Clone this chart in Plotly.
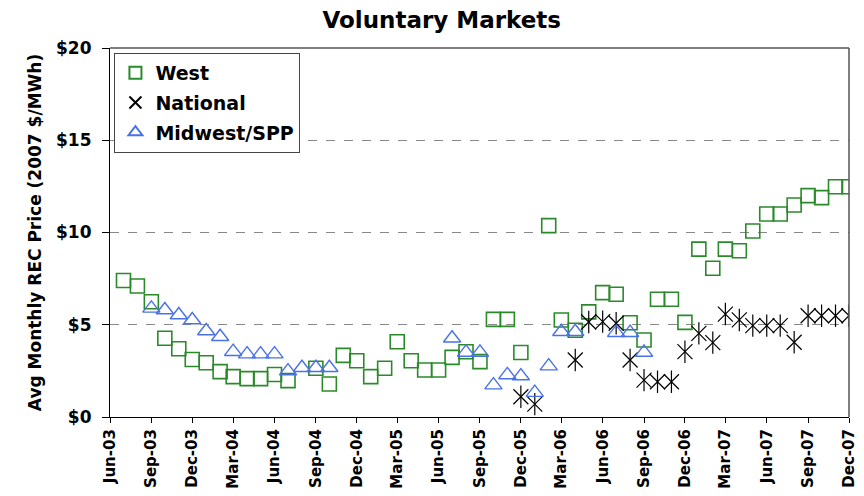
import pandas as pd
import plotly.graph_objects as go

# one entry per month, Jun-03 .. Dec-07 (None = no observation)
months = pd.date_range("2003-06-01", "2007-12-01", freq="MS")

west = [None, 7.4, 7.1, 6.25, 4.27, 3.7, 3.12, 2.94, 2.46, 2.19,
        2.08, 2.08, 2.3, 1.97, None, 2.64, 1.79, 3.34, 3.05, 2.19,
        2.64, 4.08, 3.05, 2.55, 2.55, 3.23, 3.54, 3.0, 5.29, 5.29,
        3.5, None, 10.37, 5.26, 4.7, 5.7, 6.74, 6.65, 5.11, 4.17,
        6.38, 6.38, 5.13, 9.1, 8.06, 9.1, 9.01, 10.08, 11.0, 11.0,
        11.49, 12.0, 11.89, 12.48, 12.48]

national = [None] * 30 + [1.1, 0.7, None, None, 3.09, 5.15, 5.17, 5.08, 3.09, 2.0,
                          1.91, 1.91, 3.54, 4.53, 4.03, 5.58, 5.26, 4.95, 4.95, 4.95,
                          4.05, 5.49, 5.49, 5.49, 5.49]

midwest = [None, None, None, 5.89, 5.8, 5.53, 5.26, 4.66, 4.35, 3.54,
           3.41, 3.41, 3.41, 2.49, 2.67, 2.67, 2.67, None, None, None,
           None, None, None, None, None, 4.27, 3.5, 3.5, 1.73, 2.28,
           2.22, 1.32, 2.76, 4.62, 4.62, None, None, 4.57, 4.57, 3.5,
           None, None, None, None, None, None, None, None, None, None,
           None, None, None, None, None]

y_ticks = [0, 5, 10, 15, 20]
y_labels = ["$0", "$5", "$10", "$15", "$20"]

GREEN = "#2a8a2a"
BLUE = "#4a72e8"
FONT = "DejaVu Sans, Liberation Sans, sans-serif"

fig = go.Figure()
fig.add_trace(go.Scatter(
    x=months, y=west, mode="markers", name="West",
    marker=dict(symbol="square-open", size=14, color=GREEN, line=dict(width=1.6))))
fig.add_trace(go.Scatter(
    x=months, y=national, mode="markers", name="National", legendgroup="nat",
    marker=dict(symbol="x-thin-open", size=15, color="black", line=dict(width=1.2))))
fig.add_trace(go.Scatter(
    x=months, y=national, mode="markers", name="National", legendgroup="nat",
    showlegend=False,
    marker=dict(symbol="line-ns-open", size=16, color="black", line=dict(width=1.2))))
fig.add_trace(go.Scatter(
    x=months, y=midwest, mode="markers", name="Midwest/SPP",
    marker=dict(symbol="triangle-up-open", size=15, color=BLUE, line=dict(width=1.4))))

# the page body adds an 8px offset, so margins are shifted to compensate
fig.update_layout(
    width=864, height=496,
    margin=dict(l=102, r=23, t=40, b=87),
    paper_bgcolor="white", plot_bgcolor="white",
    font=dict(family=FONT, color="black"),
    title=dict(text="<b>Voluntary Markets</b>", x=0.502, xanchor="center",
               y=0.975, yanchor="middle", font=dict(size=23)),
    legend=dict(x=0.006, y=0.9865, xanchor="left", yanchor="top",
                bordercolor="#444", borderwidth=1, bgcolor="white",
                tracegroupgap=2,
                font=dict(size=19, family=FONT, weight="bold"), itemsizing="constant"),
)
fig.update_xaxes(
    range=[months[0], months[-1]], tick0="2003-06-01", dtick="M3",
    tickformat="%b-%y", tickangle=-90, tickfont=dict(size=15, family=FONT, weight="bold"),
    ticks="outside", ticklen=5, tickcolor="black",
    showline=True, linecolor="black", linewidth=1.2, mirror=False,
    showgrid=False, zeroline=False)
fig.update_yaxes(
    range=[0, 20], tickvals=y_ticks, ticktext=y_labels,
    tickfont=dict(size=17, family=FONT, weight="bold"),
    ticks="outside", ticklen=7, tickcolor="black", ticklabelstandoff=7,
    showline=True, linecolor="black", linewidth=1.2,
    showgrid=True, gridcolor="#888", griddash="dash", gridwidth=1,
    zeroline=False,
    title=dict(text="<b>Avg Monthly REC Price (2007 $/MWh)</b>", font=dict(size=17), standoff=10))

# gray frame on top and right
fig.add_shape(type="line", xref="paper", yref="paper", x0=0, x1=1, y0=1, y1=1,
              line=dict(color="#555", width=1.5))
fig.add_shape(type="line", xref="paper", yref="paper", x0=1, x1=1, y0=0, y1=1,
              line=dict(color="#555", width=1.5))

fig.write_html("out.html")
